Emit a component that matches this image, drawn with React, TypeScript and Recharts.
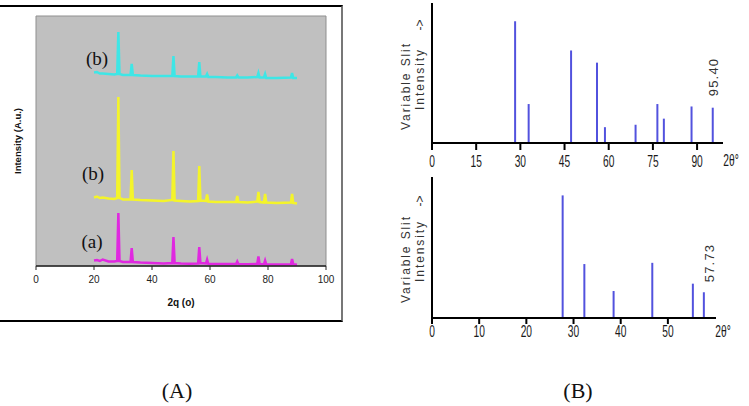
import React from 'react';
import { LineChart, Line, BarChart, Bar, XAxis, YAxis, ReferenceArea } from 'recharts';

// Panel A: XRD patterns (2theta in degrees, intensity in a.u., offset stacked)
const twoTheta = [20, 21, 22, 23, 25, 27, 28.0, 28.4, 28.8, 30, 32.6, 33.0, 33.4, 36, 40, 44, 47.0, 47.4, 47.8, 50, 53, 55.9, 56.3, 56.7, 58.6, 59.0, 59.4, 62, 66, 69.0, 69.4, 69.8, 73, 76.3, 76.7, 77.1, 78.6, 79.0, 79.4, 83, 87.9, 88.3, 88.7, 90];
const seriesA = [2.2, 2.4, 2.0, 2.6, 1.8, 1.8, 2.0, 21.2, 2.0, 1.6, 1.6, 7.2, 1.6, 1.4, 1.2, 1.0, 1.2, 11.6, 1.2, 1.0, 0.9, 1.0, 7.6, 1.2, 1.0, 2.6, 0.9, 0.8, 0.8, 0.8, 1.8, 0.8, 0.7, 0.8, 3.8, 0.8, 0.7, 2.2, 0.7, 0.6, 0.7, 2.8, 0.7, 0.5];
const seriesB1 = [27.4, 27.8, 27.2, 27.4, 27.0, 26.8, 27.2, 67.6, 27.2, 26.6, 26.6, 38.4, 26.6, 26.4, 26.2, 26.0, 26.4, 46.0, 26.2, 26.0, 25.8, 26.0, 40.0, 26.2, 26.0, 28.6, 25.8, 25.6, 25.6, 25.6, 28.0, 25.6, 25.4, 25.8, 29.6, 25.6, 25.4, 28.8, 25.4, 25.2, 25.4, 28.8, 25.2, 25.0];
const seriesB2 = [77.4, 77.6, 77.0, 77.0, 76.8, 76.6, 76.8, 93.6, 76.8, 76.4, 76.4, 80.8, 76.4, 76.2, 76.0, 76.0, 76.0, 84.0, 76.0, 75.8, 75.8, 75.8, 81.6, 75.8, 75.8, 76.8, 75.6, 75.6, 75.4, 75.4, 76.2, 75.4, 75.4, 75.6, 77.2, 75.4, 75.4, 76.8, 75.2, 75.2, 75.4, 77.2, 75.2, 75.2];
const ticksA = [0, 20, 40, 60, 80, 100];

// Panel B: reference stick patterns
const stickTopX = [28.3, 32.9, 47.3, 56.1, 58.8, 69.2, 76.6, 78.8, 88.2, 95.4];
const stickTopI = [100, 32, 76, 66, 13, 15, 32, 20, 30, 29];
const ticksTop = [0, 15, 30, 45, 60, 75, 90];
const stickBotX = [27.8, 32.4, 38.6, 46.8, 55.4, 57.73];
const stickBotI = [100, 44, 22, 45, 28, 21];
const ticksBot = [0, 10, 20, 30, 40, 50];

const dataA = twoTheta.map((t, i) => ({ t, a: seriesA[i], b1: seriesB1[i], b2: seriesB2[i] }));
const dataTop = stickTopX.map((x, i) => ({ x, i: stickTopI[i] }));
const dataBot = stickBotX.map((x, i) => ({ x, i: stickBotI[i] }));

const sans = "'Liberation Sans', Arial, sans-serif";
const serif = "'Liberation Serif', 'Times New Roman', serif";

const Txt = ({ x, y, rot, sx, style, children }: any) => (
  <div
    style={{
      position: 'absolute',
      left: x,
      top: y,
      transform: `translate(-50%, -50%)${rot ? ' rotate(-90deg)' : ''}${sx ? ` scaleX(${sx})` : ''}`,
      whiteSpace: 'nowrap',
      lineHeight: 1,
      ...style,
    }}
  >
    {children}
  </div>
);

// condensed tick labels like the original scan
const NarrowTick = ({ x, y, payload, dy }: any) => (
  <text
    transform={`translate(${x},${y + dy}) scale(0.62,1)`}
    textAnchor="middle"
    fontFamily={sans}
    fontSize={16.5}
    fill="#1a1a1a"
  >
    {payload.value}
  </text>
);

const slitStyle = { fontFamily: sans, fontSize: 12, letterSpacing: 1.9, color: '#333' };

const StickChart = ({ data, ticks, max, top, height, right, tickSize, dy }: any) => (
  <BarChart
    width={369}
    height={height}
    data={data}
    margin={{ top, right, left: 32, bottom: 0 }}
  >
    <XAxis
      dataKey="x"
      type="number"
      domain={[0, max]}
      ticks={ticks}
      interval={0}
      allowDataOverflow
      height={40}
      tickSize={tickSize}
      tickMargin={0}
      axisLine={{ stroke: '#000', strokeWidth: 2 }}
      tickLine={{ stroke: '#000', strokeWidth: 2 }}
      tick={<NarrowTick dy={dy} />}
    />
    <YAxis
      width={20}
      domain={[0, 115]}
      tick={false}
      tickLine={false}
      axisLine={{ stroke: '#000', strokeWidth: 2 }}
    />
    <Bar dataKey="i" barSize={2} fill="#5252de" isAnimationActive={false} />
  </BarChart>
);

export default function App() {
  return (
    <div style={{ position: 'absolute', left: 0, top: 0, width: 749, height: 406, background: '#fff', overflow: 'hidden' }}>
      {/* Panel A frame */}
      <div
        style={{
          position: 'absolute', left: -2, top: 5, width: 345, height: 317, boxSizing: 'border-box',
          borderTop: '2px solid #000', borderBottom: '2px solid #000', borderRight: '2px solid #777',
        }}
      />
      <div style={{ position: 'absolute', left: 0, top: 0 }}>
        <LineChart width={340} height={310} data={dataA} margin={{ top: 16, right: 14, left: 0, bottom: 0 }}>
          <ReferenceArea x1={0} x2={100} y1={0} y2={100} fill="#c0c0c0" fillOpacity={1} stroke="#8f8f8f" strokeWidth={1} />
          <XAxis
            dataKey="t"
            type="number"
            domain={[0, 100]}
            ticks={ticksA}
            interval={0}
            height={44}
            tickSize={4}
            tickMargin={6}
            axisLine={{ stroke: '#222', strokeWidth: 1.5 }}
            tickLine={{ stroke: '#222' }}
            tick={{ fontFamily: sans, fontSize: 10, fill: '#222' }}
            label={{ value: '2q (o)', position: 'insideBottom', offset: 4, style: { fontFamily: sans, fontSize: 10, fontWeight: 'bold', fill: '#111' } }}
          />
          <YAxis
            width={36}
            domain={[0, 100]}
            tick={false}
            tickLine={false}
            axisLine={false}
            label={{ value: 'Intensity (A.u.)', angle: -90, position: 'center', style: { fontFamily: sans, fontSize: 9.5, fontWeight: 'bold', fill: '#111' } }}
          />
          <Line type="linear" dataKey="a" stroke="#e028e0" strokeWidth={2.5} dot={false} isAnimationActive={false} />
          <Line type="linear" dataKey="b1" stroke="#f4f42a" strokeWidth={2.5} dot={false} isAnimationActive={false} />
          <Line type="linear" dataKey="b2" stroke="#3ee6e6" strokeWidth={2.5} dot={false} isAnimationActive={false} />
        </LineChart>
      </div>
      <Txt x={97} y={58} style={{ fontFamily: serif, fontSize: 19, color: '#111' }}>(b)</Txt>
      <Txt x={93} y={173} style={{ fontFamily: serif, fontSize: 19, color: '#111' }}>(b)</Txt>
      <Txt x={92} y={241} style={{ fontFamily: serif, fontSize: 19, color: '#111' }}>(a)</Txt>

      {/* Panel B top */}
      <div style={{ position: 'absolute', left: 380, top: 0 }}>
        <StickChart data={dataTop} ticks={ticksTop} max={98.8} top={3} height={183} right={26} tickSize={7} dy={17} />
      </div>
      <Txt x={406} y={86} rot style={slitStyle}>Variable Slit</Txt>
      <Txt x={420} y={79} rot style={slitStyle}>Intensity</Txt>
      <Txt x={420} y={25} rot style={{ ...slitStyle, letterSpacing: 0 }}>-&gt;</Txt>
      <Txt x={713} y={77} rot style={{ fontFamily: sans, fontSize: 13, letterSpacing: 1.2, color: '#333' }}>95.40</Txt>
      <Txt x={731} y={160} sx={0.62} style={{ fontFamily: sans, fontSize: 16.5, color: '#1a1a1a' }}>2θ°</Txt>

      {/* Panel B bottom */}
      <div style={{ position: 'absolute', left: 380, top: 170 }}>
        <StickChart data={dataBot} ticks={ticksBot} max={60.2} top={7} height={188} right={33} tickSize={6} dy={13} />
      </div>
      <Txt x={406} y={259} rot style={slitStyle}>Variable Slit</Txt>
      <Txt x={420} y={251} rot style={slitStyle}>Intensity</Txt>
      <Txt x={420} y={201} rot style={{ ...slitStyle, letterSpacing: 0 }}>-&gt;</Txt>
      <Txt x={709} y={263} rot style={{ fontFamily: sans, fontSize: 13, letterSpacing: 1.2, color: '#333' }}>57.73</Txt>
      <Txt x={723} y={331} sx={0.62} style={{ fontFamily: sans, fontSize: 16.5, color: '#1a1a1a' }}>2θ°</Txt>

      <Txt x={177} y={391} style={{ fontFamily: serif, fontSize: 22, color: '#111' }}>(A)</Txt>
      <Txt x={578} y={391} style={{ fontFamily: serif, fontSize: 22, color: '#111' }}>(B)</Txt>
    </div>
  );
}
